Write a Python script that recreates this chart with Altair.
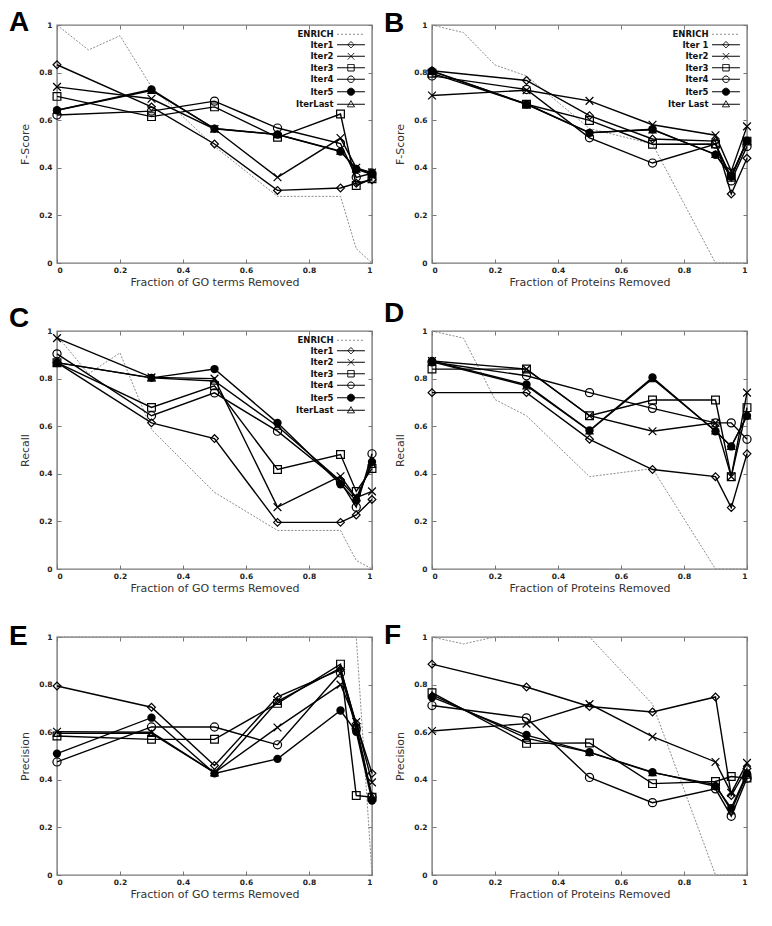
import altair as alt
import pandas as pd

# ---------------- data ----------------
X_ITER = [0, 0.3, 0.5, 0.7, 0.9, 0.95, 1.0]
X_ENRICH = [0, 0.1, 0.2, 0.3, 0.5, 0.7, 0.9, 0.95, 1.0]
TICKS = [0, 0.2, 0.4, 0.6, 0.8, 1]
SERIES = ["Iter1", "Iter2", "Iter3", "Iter4", "Iter5", "IterLast"]
LEGEND_GO = ["ENRICH", "Iter1", "Iter2", "Iter3", "Iter4", "Iter5", "IterLast"]
LEGEND_PROT = ["ENRICH", "Iter 1", "Iter2", "Iter3", "Iter4", "Iter5", "Iter Last"]

# A: F-Score, GO terms removed
A_ENRICH = [1.0, 0.895, 0.955, 0.74, 0.49, 0.28, 0.28, 0.06, 0.0]
A_ITER1 = [0.833, 0.656, 0.500, 0.305, 0.315, 0.335, 0.350]
A_ITER2 = [0.740, 0.690, 0.563, 0.360, 0.525, 0.400, 0.380]
A_ITER3 = [0.700, 0.615, 0.656, 0.528, 0.626, 0.326, 0.354]
A_ITER4 = [0.622, 0.638, 0.680, 0.567, 0.502, 0.360, 0.377]
A_ITER5 = [0.642, 0.729, 0.564, 0.540, 0.468, 0.395, 0.374]
A_LAST = [0.642, 0.725, 0.565, 0.540, 0.470, 0.395, 0.372]

# B: F-Score, proteins removed
B_ENRICH = [1.0, 0.968, 0.832, 0.786, 0.565, 0.50, 0.0, 0.0, 0.0]
B_ITER1 = [0.808, 0.767, 0.619, 0.521, 0.512, 0.290, 0.440]
B_ITER2 = [0.704, 0.726, 0.681, 0.581, 0.537, 0.386, 0.574]
B_ITER3 = [0.797, 0.667, 0.599, 0.499, 0.500, 0.360, 0.512]
B_ITER4 = [0.786, 0.729, 0.526, 0.420, 0.500, 0.345, 0.490]
B_ITER5 = [0.807, 0.667, 0.547, 0.562, 0.455, 0.363, 0.514]
B_LAST = [0.805, 0.668, 0.548, 0.560, 0.457, 0.365, 0.512]

# C: Recall, GO terms removed
C_ENRICH = [0.98, 0.82, 0.908, 0.586, 0.322, 0.162, 0.162, 0.036, 0.0]
C_ITER1 = [0.867, 0.614, 0.548, 0.196, 0.196, 0.227, 0.292]
C_ITER2 = [0.970, 0.805, 0.800, 0.260, 0.390, 0.300, 0.326]
C_ITER3 = [0.867, 0.679, 0.770, 0.418, 0.481, 0.326, 0.422]
C_ITER4 = [0.904, 0.644, 0.740, 0.579, 0.367, 0.260, 0.484]
C_ITER5 = [0.867, 0.803, 0.840, 0.614, 0.356, 0.288, 0.450]
C_LAST = [0.867, 0.803, 0.790, 0.600, 0.370, 0.300, 0.440]

# D: Recall, proteins removed
D_ENRICH = [1.0, 0.97, 0.712, 0.644, 0.388, 0.422, 0.0, 0.0, 0.0]
D_ITER1 = [0.741, 0.741, 0.545, 0.418, 0.388, 0.258, 0.484]
D_ITER2 = [0.874, 0.840, 0.644, 0.579, 0.614, 0.388, 0.741]
D_ITER3 = [0.840, 0.840, 0.644, 0.710, 0.710, 0.388, 0.678]
D_ITER4 = [0.870, 0.812, 0.741, 0.675, 0.614, 0.614, 0.545]
D_ITER5 = [0.874, 0.775, 0.582, 0.805, 0.579, 0.515, 0.644]
D_LAST = [0.870, 0.770, 0.580, 0.800, 0.580, 0.515, 0.644]

# E: Precision, GO terms removed
E_ENRICH = [1.0, 1.0, 1.0, 1.0, 1.0, 1.0, 1.0, 1.0, 0.0]
E_ITER1 = [0.794, 0.705, 0.460, 0.749, 0.863, 0.636, 0.427]
E_ITER2 = [0.602, 0.600, 0.430, 0.620, 0.800, 0.643, 0.389]
E_ITER3 = [0.584, 0.570, 0.570, 0.721, 0.886, 0.334, 0.327]
E_ITER4 = [0.475, 0.622, 0.622, 0.547, 0.849, 0.615, 0.327]
E_ITER5 = [0.510, 0.661, 0.427, 0.488, 0.691, 0.602, 0.313]
E_LAST = [0.595, 0.595, 0.430, 0.730, 0.870, 0.630, 0.330]

# F: Precision, proteins removed
F_ENRICH = [1.0, 0.971, 1.0, 1.0, 1.0, 0.718, 0.0, 0.0, 0.0]
F_ITER1 = [0.886, 0.790, 0.708, 0.685, 0.748, 0.334, 0.448]
F_ITER2 = [0.605, 0.636, 0.718, 0.581, 0.475, 0.345, 0.471]
F_ITER3 = [0.766, 0.553, 0.555, 0.384, 0.393, 0.414, 0.407]
F_ITER4 = [0.712, 0.660, 0.410, 0.304, 0.362, 0.247, 0.407]
F_ITER5 = [0.747, 0.588, 0.516, 0.432, 0.373, 0.281, 0.427]
F_LAST = [0.757, 0.575, 0.515, 0.430, 0.380, 0.270, 0.420]

# ---------------- styles ----------------
W, H = 315, 238
TICK = 4
FONT = "DejaVu Sans"

X_PATH = "M-1,-1L1,1M-1,1L1,-1"
MARKERS = {  # drawing style of each iteration's points
    "Iter1": dict(shape="diamond", size=60, filled=False),
    "Iter2": dict(shape=X_PATH, size=60, filled=False),
    "Iter3": dict(shape="square", size=60, filled=False),
    "Iter4": dict(shape="circle", size=66, filled=False),
    "Iter5": dict(shape="circle", size=70, filled=True),
    "IterLast": dict(shape="triangle-up", size=50, filled=False),
}
DRAW_ORDER = ["IterLast", "Iter1", "Iter2", "Iter3", "Iter4", "Iter5"]

# legend samples (gnuplot style: line segment with the marker in its middle),
# drawn to the right of the symbol anchor so that they sit after the label
S = 6.7
LINE = "M2.4,0H11"
LEG_PATHS = [
    LINE,
    LINE + f"M{S-1},0L{S},-1L{S+1},0L{S},1Z",
    LINE + f"M{S-1},-1L{S+1},1M{S-1},1L{S+1},-1",
    LINE + f"M{S-1},-1H{S+1}V1H{S-1}Z",
    LINE + f"M{S-1},0A1,1,0,1,1,{S+1},0A1,1,0,1,1,{S-1},0Z",
    LINE + f"M{S-1.1},0A1.1,1.1,0,1,1,{S+1.1},0A1.1,1.1,0,1,1,{S-1.1},0Z",
    LINE + f"M{S},-1.1L{S+1.1},0.8L{S-1.1},0.8Z",
]
LEG_FILLS = ["transparent"] * 5 + ["black", "transparent"]
LEG_STROKES = ["#8c8c8c"] + ["black"] * 6
LEG_DASH = [[2, 2]] + [[1, 0]] * 6


def panel(letter, letter_dy, ytitle, xtitle, enrich, iters, legend_names=None):
    xs = alt.Scale(domain=[0, 1], nice=False, zero=False)
    ys = alt.Scale(domain=[0, 1], nice=False, zero=False)
    e_df = pd.DataFrame({"x": X_ENRICH, "y": enrich})
    rows = []
    for name, vals in zip(SERIES, iters):
        for xv, yv in zip(X_ITER, vals):
            rows.append({"x": xv, "y": yv, "series": name})
    df = pd.DataFrame(rows)

    ax_bottom = alt.Axis(values=TICKS, format="~g", orient="bottom", offset=-TICK,
                         tickSize=TICK, domain=False, grid=False, labelPadding=3,
                         title=xtitle, titlePadding=3, minExtent=0)
    ax_left = alt.Axis(values=TICKS, format="~g", orient="left", offset=-TICK,
                       tickSize=TICK, domain=False, grid=False, labelPadding=5,
                       title=ytitle, titlePadding=8, minExtent=0)
    ax_top = alt.Axis(values=TICKS, orient="top", offset=-TICK, tickSize=TICK,
                      domain=False, grid=False, labels=False, title=None,
                      minExtent=0, maxExtent=0)
    ax_right = alt.Axis(values=TICKS, orient="right", offset=-TICK, tickSize=TICK,
                        domain=False, grid=False, labels=False, title=None,
                        minExtent=0, maxExtent=0)

    enrich_line = alt.Chart(e_df).mark_line(
        color="#8c8c8c", strokeWidth=1, strokeDash=[2, 1.5]
    ).encode(
        x=alt.X("x:Q", scale=xs, axis=ax_bottom),
        y=alt.Y("y:Q", scale=ys, axis=ax_left),
    )
    iter_lines = alt.Chart(df).mark_line(color="black", strokeWidth=1.4).encode(
        x=alt.X("x:Q", scale=xs, axis=ax_top),
        y=alt.Y("y:Q", scale=ys, axis=ax_right),
        detail="series:N",
    )
    layers = [enrich_line, iter_lines]
    for name in DRAW_ORDER:
        m = MARKERS[name]
        pts = alt.Chart(df).transform_filter(alt.datum.series == name).mark_point(
            shape=m["shape"], size=m["size"], filled=m["filled"],
            color="black", strokeWidth=1.2, opacity=1,
        ).encode(
            x=alt.X("x:Q", scale=xs, axis=None),
            y=alt.Y("y:Q", scale=ys, axis=None),
        )
        layers.append(pts)

    if legend_names is not None:
        leg = alt.Legend(title=None, orient="top-right", offset=5, padding=0,
                         labelAlign="right", labelOffset=0, symbolOffset=0,
                         symbolSize=42, symbolStrokeWidth=1.0, symbolOpacity=1,
                         labelFont=FONT, labelFontSize=8.5, labelFontWeight="bold",
                         labelColor="#111", rowPadding=0.5)
        leg_df = pd.DataFrame({"name": legend_names})
        leg_layer = alt.Chart(leg_df).transform_filter("false").mark_point(
            size=42, strokeWidth=1.0, opacity=1
        ).encode(
            shape=alt.Shape("name:N", scale=alt.Scale(domain=legend_names, range=LEG_PATHS), legend=leg),
            fill=alt.Fill("name:N", scale=alt.Scale(domain=legend_names, range=LEG_FILLS), legend=leg),
            stroke=alt.Stroke("name:N", scale=alt.Scale(domain=legend_names, range=LEG_STROKES), legend=leg),
            strokeDash=alt.StrokeDash("name:N", scale=alt.Scale(domain=legend_names, range=LEG_DASH), legend=leg),
        )
        layers.append(leg_layer)

    title = alt.TitleParams(letter, anchor="start", frame="group", fontSize=28,
                            font="Liberation Sans", fontWeight="bold", color="black",
                            baseline="alphabetic", offset=0, dx=-48, dy=letter_dy)
    return alt.layer(*layers).resolve_axis(x="independent", y="independent").properties(
        width=W, height=H, title=title
    )


GO = "Fraction of GO terms Removed"
PR = "Fraction of Proteins Removed"

pA = panel("A", 38, "F-Score", GO, A_ENRICH,
           [A_ITER1, A_ITER2, A_ITER3, A_ITER4, A_ITER5, A_LAST], LEGEND_GO)
pB = panel("B", 39, "F-Score", PR, B_ENRICH,
           [B_ITER1, B_ITER2, B_ITER3, B_ITER4, B_ITER5, B_LAST], LEGEND_PROT)
pC = panel("C", 28, "Recall", GO, C_ENRICH,
           [C_ITER1, C_ITER2, C_ITER3, C_ITER4, C_ITER5, C_LAST], LEGEND_GO)
pD = panel("D", 23, "Recall", PR, D_ENRICH,
           [D_ITER1, D_ITER2, D_ITER3, D_ITER4, D_ITER5, D_LAST])
pE = panel("E", 40, "Precision", GO, E_ENRICH,
           [E_ITER1, E_ITER2, E_ITER3, E_ITER4, E_ITER5, E_LAST])
pF = panel("F", 39, "Precision", PR, F_ENRICH,
           [F_ITER1, F_ITER2, F_ITER3, F_ITER4, F_ITER5, F_LAST])

chart = alt.concat(
    pA, pB, pC, pD, pE, pF, columns=2,
    spacing={"row": 68, "column": 60}, bounds="flush",
).resolve_scale(
    shape="independent", fill="independent", stroke="independent", strokeDash="independent"
).resolve_legend(
    shape="independent", fill="independent", stroke="independent", strokeDash="independent"
).properties(
    padding={"left": 0, "top": 0, "right": 0, "bottom": 0}
).configure_view(
    stroke="#7a7a7a", strokeWidth=1.4
).configure_axis(
    labelFont=FONT, labelFontSize=7.5, labelFontWeight="bold", labelColor="#222",
    titleFont=FONT, titleFontSize=11, titleFontWeight="normal", titleColor="#333",
    tickColor="#777", tickWidth=1, minExtent=0,
)

chart.save("out.html", embed_options={"renderer": "svg", "actions": False})
